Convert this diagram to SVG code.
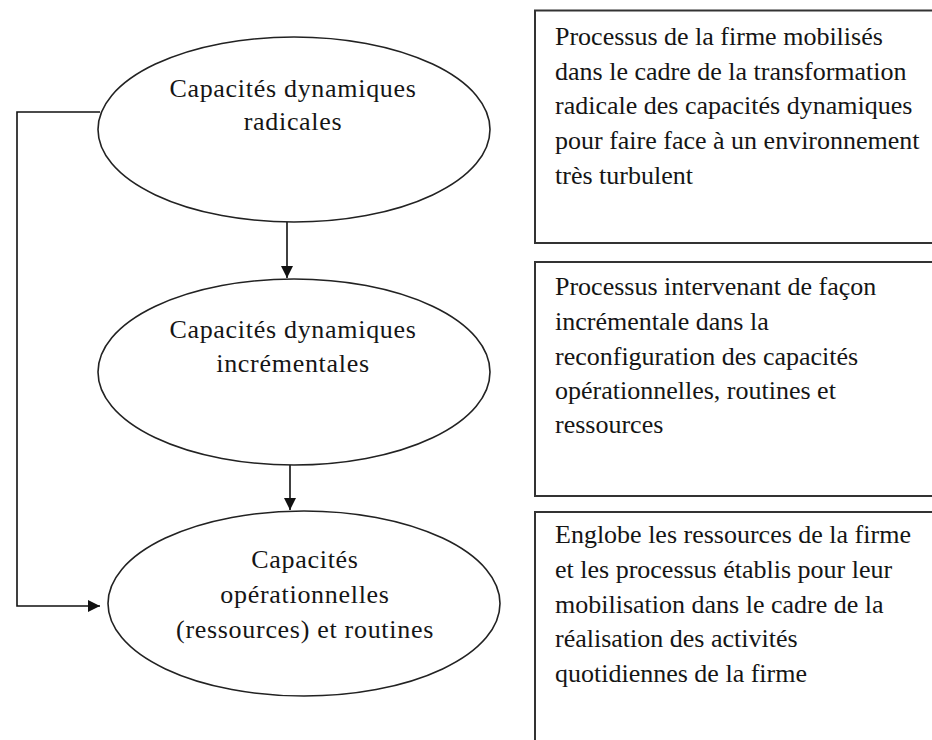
<svg xmlns="http://www.w3.org/2000/svg" width="932" height="740" viewBox="0 0 932 740">
<style>
.bg{fill:#ffffff}
.ell{fill:#ffffff;stroke:#222;stroke-width:1.6}
.box{fill:#ffffff;stroke:#333;stroke-width:2}
.lbl{font-family:"Liberation Serif","Times New Roman",serif;font-size:26px;fill:#151515;letter-spacing:0.7px}
.txt{font-family:"Liberation Serif","Times New Roman",serif;font-size:26px;fill:#151515}
.con{fill:none;stroke:#111;stroke-width:1.6}
</style>
<defs>
<marker id="arr" viewBox="0 0 12 12" refX="12" refY="6" markerWidth="12" markerHeight="12" markerUnits="userSpaceOnUse" orient="auto">
<path d="M0,0 L12,6 L0,12 Z" fill="#111"/>
</marker>
</defs>
<rect class="bg" x="0" y="0" width="932" height="740"/>
<g id="connectors">
<path class="con" d="M287,222 L287,278" marker-end="url(#arr)"/>
<path class="con" d="M290,465 L290,510" marker-end="url(#arr)"/>
<path class="con" d="M100,112 L17,112 L17,606 L100,606" marker-end="url(#arr)"/>
</g>
<g id="node-radicales">
<ellipse class="ell" cx="294" cy="129.5" rx="196" ry="92.5"/>
<text class="lbl" text-anchor="middle" x="293" y="97">Capacités dynamiques</text>
<text class="lbl" text-anchor="middle" x="293" y="130">radicales</text>
</g>
<g id="node-incrementales">
<ellipse class="ell" cx="294" cy="372" rx="196" ry="93"/>
<text class="lbl" text-anchor="middle" x="293" y="338">Capacités dynamiques</text>
<text class="lbl" text-anchor="middle" x="293" y="372">incrémentales</text>
</g>
<g id="node-operationnelles">
<ellipse class="ell" cx="304" cy="603.5" rx="196" ry="92.5"/>
<text class="lbl" text-anchor="middle" x="305" y="568">Capacités</text>
<text class="lbl" text-anchor="middle" x="305" y="603">opérationnelles</text>
<text class="lbl" text-anchor="middle" x="305" y="638">(ressources) et routines</text>
</g>
<g id="box-radicales">
<rect class="box" x="535" y="10.5" width="420" height="232.5"/>
<text class="txt" x="555" y="45">Processus de la firme mobilisés</text>
<text class="txt" x="555" y="80">dans le cadre de la transformation</text>
<text class="txt" x="555" y="114">radicale des capacités dynamiques</text>
<text class="txt" x="555" y="149">pour faire face à un environnement</text>
<text class="txt" x="555" y="184">très turbulent</text>
</g>
<g id="box-incrementales">
<rect class="box" x="535" y="262" width="420" height="234"/>
<text class="txt" x="555" y="295">Processus intervenant de façon</text>
<text class="txt" x="555" y="330">incrémentale dans la</text>
<text class="txt" x="555" y="365">reconfiguration des capacités</text>
<text class="txt" x="555" y="399">opérationnelles, routines et</text>
<text class="txt" x="555" y="433">ressources</text>
</g>
<g id="box-operationnelles">
<rect class="box" x="535" y="512" width="420" height="260"/>
<text class="txt" x="555" y="543">Englobe les ressources de la firme</text>
<text class="txt" x="555" y="578">et les processus établis pour leur</text>
<text class="txt" x="555" y="613">mobilisation dans le cadre de la</text>
<text class="txt" x="555" y="647">réalisation des activités</text>
<text class="txt" x="555" y="682">quotidiennes de la firme</text>
</g>
</svg>
